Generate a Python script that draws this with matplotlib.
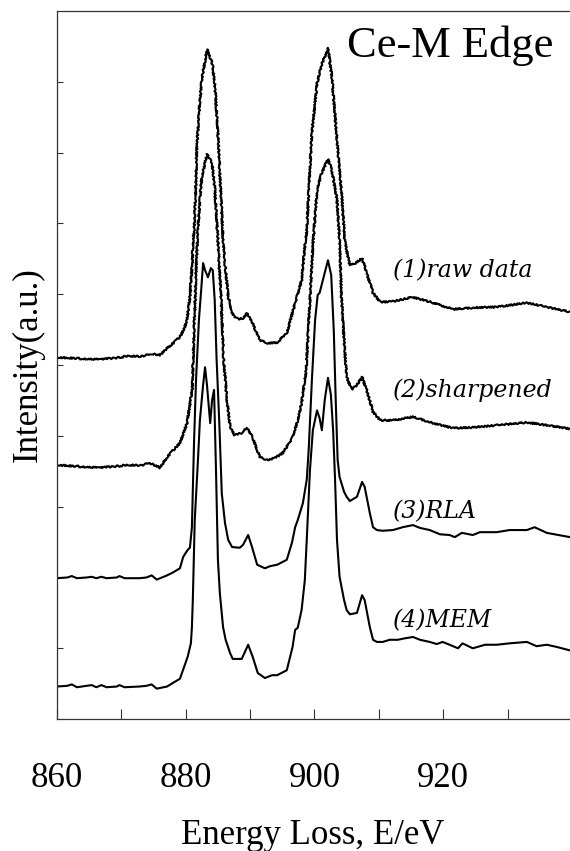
import matplotlib
matplotlib.use('Agg')
import matplotlib.pyplot as plt

plt.rcParams['font.family'] = 'Liberation Serif'

# Ce-M edge EELS spectra (intensity already offset)
raw_energy = [860.0, 862.0, 864.0, 866.7, 869.0, 871.3, 873.0, 874.8, 876.0, 877.1,
              878.2, 879.1, 879.7, 880.2, 880.65, 881.0, 881.15, 881.3, 881.5, 881.7,
              882.2, 882.5, 883.3, 884.1, 884.5, 885.0, 885.5, 885.8, 886.1, 886.6,
              887.3, 888.1, 888.9, 889.5, 890.3, 891.5, 892.8, 894.2, 895.7, 897.0,
              898.0, 898.5, 898.8, 899.6, 900.4, 901.1, 902.1, 902.7, 903.5, 904.3,
              904.7, 905.0, 905.5, 906.4, 907.4, 908.1, 909.1, 910.2, 912.2, 915.3,
              918.4, 921.5, 924.6, 928.3, 933.0, 936.1, 939.7]
raw_intensity = [5.11, 5.10, 5.09, 5.08, 5.10, 5.13, 5.12, 5.16, 5.14, 5.24,
                 5.32, 5.40, 5.50, 5.64, 5.96, 6.44, 6.77, 6.91, 7.33, 8.04,
                 8.74, 9.03, 9.46, 9.27, 8.98, 8.28, 7.33, 6.77, 6.44, 5.96,
                 5.71, 5.65, 5.66, 5.73, 5.61, 5.35, 5.31, 5.32, 5.45, 5.88,
                 6.20, 6.67, 6.91, 8.28, 8.98, 9.24, 9.48, 9.07, 8.18, 7.33,
                 6.77, 6.62, 6.41, 6.44, 6.51, 6.30, 6.02, 5.89, 5.90, 5.96,
                 5.88, 5.79, 5.81, 5.82, 5.88, 5.82, 5.75]

sharp_energy = [860.0, 863.0, 866.7, 869.0, 871.3, 873.0, 874.4, 876.0, 877.1, 879.1,
                880.2, 881.0, 881.3, 881.6, 881.9, 882.2, 882.5, 883.3, 884.1, 884.5,
                885.0, 885.5, 885.9, 886.4, 886.9, 887.6, 888.6, 889.5, 890.4, 891.5,
                892.6, 893.9, 895.1, 896.6, 897.4, 898.0, 898.7, 899.3, 899.8, 900.4,
                901.1, 902.1, 902.7, 903.5, 903.9, 904.2, 904.7, 905.0, 905.8, 906.6,
                907.4, 908.1, 909.1, 910.2, 912.2, 915.3, 918.4, 921.5, 924.6, 928.3,
                933.0, 936.1, 939.7]
sharp_intensity = [3.59, 3.57, 3.55, 3.57, 3.59, 3.58, 3.62, 3.55, 3.70, 3.90,
                   4.18, 4.65, 5.49, 6.34, 6.91, 7.33, 7.66, 7.98, 7.85, 7.51,
                   6.77, 5.92, 5.07, 4.51, 4.12, 4.01, 4.04, 4.11, 3.98, 3.70,
                   3.66, 3.69, 3.76, 3.98, 4.22, 4.46, 4.93, 5.92, 6.77, 7.47,
                   7.71, 7.91, 7.75, 7.33, 6.77, 5.96, 5.21, 4.83, 4.65, 4.72,
                   4.83, 4.65, 4.34, 4.22, 4.22, 4.27, 4.18, 4.11, 4.12, 4.15,
                   4.19, 4.15, 4.10]

rla_energy = [860.0, 861.6, 862.3, 863.1, 864.6, 865.4, 866.1, 866.9, 867.7, 869.3,
              869.7, 870.5, 872.8, 873.9, 874.7, 875.5, 877.1, 878.0, 879.1, 879.6,
              880.3, 880.65, 880.96, 881.1, 881.3, 881.6, 882.05, 882.4, 882.7, 883.0,
              883.45, 883.9, 884.2, 884.5, 884.8, 885.2, 885.6, 886.1, 886.6, 887.2,
              888.4, 888.9, 889.7, 890.3, 891.1, 892.3, 893.1, 894.2, 895.7, 896.5,
              897.0, 897.4, 898.2, 898.8, 899.1, 899.6, 900.1, 900.5, 900.8, 901.5,
              902.1, 902.6, 903.0, 903.3, 903.6, 903.9, 904.6, 905.0, 905.5, 906.6,
              907.4, 907.8, 908.6, 909.1, 909.7, 910.6, 912.2, 913.7, 915.3, 916.4,
              917.9, 919.5, 921.0, 921.8, 922.9, 924.6, 925.7, 928.3, 930.3, 933.0,
              934.2, 936.1, 939.7]
rla_intensity = [1.99, 2.00, 2.02, 1.99, 2.00, 2.01, 1.99, 2.01, 1.99, 2.00,
                 2.02, 1.99, 1.99, 2.00, 2.03, 1.97, 2.03, 2.07, 2.13, 2.29,
                 2.39, 2.42, 2.71, 3.23, 3.94, 4.79, 5.64, 6.06, 6.44, 6.34,
                 6.24, 6.37, 6.34, 5.92, 5.07, 4.22, 3.19, 2.77, 2.53, 2.43,
                 2.42, 2.46, 2.60, 2.43, 2.18, 2.13, 2.16, 2.18, 2.25, 2.49,
                 2.71, 2.81, 3.05, 3.38, 3.80, 4.79, 5.64, 5.99, 6.02, 6.27,
                 6.48, 6.27, 5.49, 4.51, 3.66, 3.42, 3.21, 3.14, 3.08, 3.14,
                 3.35, 3.28, 2.91, 2.71, 2.67, 2.66, 2.67, 2.71, 2.74, 2.70,
                 2.67, 2.61, 2.60, 2.57, 2.63, 2.60, 2.64, 2.64, 2.67, 2.67,
                 2.71, 2.63, 2.57]

mem_energy = [860.0, 861.6, 862.3, 863.1, 864.6, 865.4, 866.1, 866.9, 867.7, 869.3,
              869.7, 870.5, 872.8, 873.9, 874.7, 875.5, 877.1, 878.0, 879.1, 880.3,
              880.8, 880.96, 881.1, 881.4, 881.9, 882.2, 882.7, 883.0, 883.3, 883.8,
              884.1, 884.4, 884.7, 885.0, 885.3, 885.8, 886.2, 886.9, 887.3, 888.7,
              889.2, 889.7, 890.4, 891.2, 892.3, 893.4, 894.2, 895.7, 896.6, 897.0,
              897.4, 898.0, 898.5, 898.8, 899.3, 899.75, 900.4, 900.8, 901.15, 901.6,
              902.1, 902.55, 902.9, 903.2, 903.5, 903.9, 904.6, 905.0, 905.5, 906.6,
              907.4, 907.8, 908.6, 909.1, 909.7, 910.6, 911.7, 912.95, 914.0, 915.3,
              916.4, 917.9, 919.0, 919.9, 921.0, 922.3, 923.0, 924.6, 926.5, 928.3,
              930.3, 933.0, 934.5, 936.1, 937.6, 939.7]
mem_intensity = [0.46, 0.47, 0.49, 0.45, 0.47, 0.48, 0.45, 0.48, 0.45, 0.46,
                 0.48, 0.45, 0.46, 0.47, 0.49, 0.43, 0.46, 0.51, 0.57, 0.88,
                 1.07, 1.30, 1.68, 2.81, 3.66, 4.22, 4.72, 4.97, 4.72, 4.18,
                 4.51, 4.65, 3.52, 2.25, 1.78, 1.30, 1.12, 0.93, 0.85, 0.85,
                 0.95, 1.05, 0.88, 0.65, 0.58, 0.62, 0.62, 0.69, 1.02, 1.26,
                 1.29, 1.54, 1.96, 2.53, 3.52, 4.08, 4.36, 4.25, 4.08, 4.51,
                 4.82, 4.58, 4.08, 3.38, 2.53, 2.01, 1.68, 1.54, 1.48, 1.50,
                 1.75, 1.68, 1.30, 1.12, 1.09, 1.09, 1.12, 1.12, 1.14, 1.16,
                 1.12, 1.09, 1.06, 1.09, 1.05, 1.00, 1.07, 1.00, 1.05, 1.05,
                 1.07, 1.09, 1.03, 1.05, 1.02, 0.97]

curve_labels = ['(1)raw data', '(2)sharpened', '(3)RLA', '(4)MEM']
label_x = 912.2
label_y = [6.24, 4.55, 2.84, 1.30]

x_ticks = [860, 870, 880, 890, 900, 910, 920, 930]
x_ticklabels = ['860', '', '880', '', '900', '', '920', '']
y_ticks = [1, 2, 3, 4, 5, 6, 7, 8, 9]

fig, ax = plt.subplots(figsize=(5.7, 8.51), dpi=100)
fig.subplots_adjust(left=0.1, right=1.0, bottom=0.155, top=0.987)

# noisy measured spectra get a slight jitter in rendering, deconvolved ones are smooth
for e, i, noisy in [(raw_energy, raw_intensity, True),
                    (sharp_energy, sharp_intensity, True),
                    (rla_energy, rla_intensity, False),
                    (mem_energy, mem_intensity, False)]:
    line, = ax.plot(e, i, color='black', lw=1.5, solid_joinstyle='round')
    if noisy:
        line.set_sketch_params(scale=0.8, length=2.0, randomness=3)

for text, y in zip(curve_labels, label_y):
    ax.text(label_x, y, text, fontsize=17, family='DejaVu Serif', style='italic',
            ha='left', va='baseline')

ax.text(905.0, 9.35, 'Ce-M Edge', fontsize=32, ha='left', va='baseline')

ax.set_xlim(860, 939.7)
ax.set_ylim(0, 10)
ax.set_xticks(x_ticks)
ax.set_xticklabels(x_ticklabels)
ax.set_yticks(y_ticks)

ax.tick_params(axis='x', direction='in', length=7.5, width=0.8, pad=31,
               labelsize=25, color='#333333')
ax.tick_params(axis='y', direction='in', length=4.5, width=0.8,
               labelleft=False, color='#333333')

for side in ['left', 'bottom', 'top']:
    ax.spines[side].set_color('#333333')
    ax.spines[side].set_linewidth(0.9)
ax.spines['right'].set_visible(False)

ax.set_xlabel('Energy Loss, E/eV', fontsize=25, va='center')
ax.xaxis.set_label_coords(0.499, -0.165)
ax.set_ylabel('Intensity(a.u.)', fontsize=25, va='center')
ax.yaxis.set_label_coords(-0.056, 0.5)

plt.savefig('out.png', dpi=100)
plt.close()
